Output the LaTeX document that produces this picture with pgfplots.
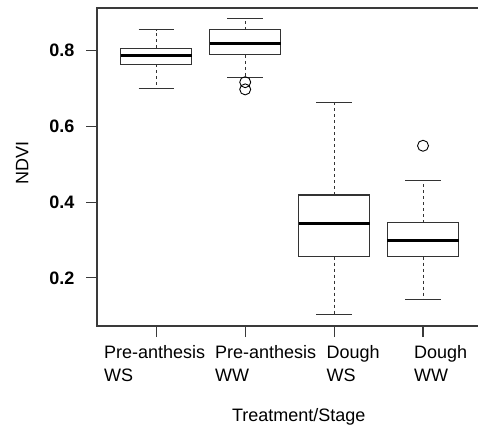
\documentclass[border=0pt]{standalone}
\usepackage{pgfplots}
\pgfplotsset{compat=1.18}
\usepgfplotslibrary{statistics}
\usepackage{fontspec}
\setmainfont{Liberation Sans}

\definecolor{framegray}{HTML}{3A3A3A}
\definecolor{boxgray}{HTML}{333333}

\begin{document}
\begin{tikzpicture}
\path[use as bounding box] (0pt,0pt) rectangle (478pt,-426pt);
\begin{axis}[
  at={(97pt,-326pt)}, anchor=south west,
  scale only axis, width=384.7pt, height=318pt,
  xmin=0.333, xmax=4.66, ymin=0.0727, ymax=0.913,
  xtick={1,2,3,4}, xticklabels={},
  ytick={0.2,0.4,0.6,0.8},
  /pgf/number format/assume math mode=true,
  yticklabel style={/pgf/number format/fixed, /pgf/number format/precision=1,
    /pgf/number format/fixed zerofill, xshift=-8pt,
    font=\fontsize{18}{18}\selectfont\bfseries},
  tick align=outside, tick pos=left, major tick length=11pt,
  axis line style={framegray, line width=1.2pt},
  every tick/.style={framegray, line width=1.2pt},
  boxplot/draw direction=y,
  boxplot/every box/.style={draw=boxgray, line width=1.1pt},
  boxplot/every median/.style={black, line width=3pt},
  boxplot/every whisker/.style={boxgray, line width=1pt},
  boxplot/box extend=0.8,
  boxplot/whisker extend=0.4,
  boxplot/draw/lower whisker/.code={
    \draw[/pgfplots/boxplot/every whisker/.try, dash pattern=on 3pt off 3pt]
      (boxplot cs:\pgfplotsboxplotvalue{lower quartile})
      -- (boxplot cs:\pgfplotsboxplotvalue{lower whisker});
    \draw[/pgfplots/boxplot/every whisker/.try]
      (boxplot whisker cs:\pgfplotsboxplotvalue{lower whisker},0)
      -- (boxplot whisker cs:\pgfplotsboxplotvalue{lower whisker},1);
  },
  boxplot/draw/upper whisker/.code={
    \draw[/pgfplots/boxplot/every whisker/.try, dash pattern=on 3pt off 3pt]
      (boxplot cs:\pgfplotsboxplotvalue{upper quartile})
      -- (boxplot cs:\pgfplotsboxplotvalue{upper whisker});
    \draw[/pgfplots/boxplot/every whisker/.try]
      (boxplot whisker cs:\pgfplotsboxplotvalue{upper whisker},0)
      -- (boxplot whisker cs:\pgfplotsboxplotvalue{upper whisker},1);
  },
]

% Pre-anthesis WS
\addplot[boxplot prepared={draw position=1,
    lower whisker=0.700, lower quartile=0.764, median=0.788,
    upper quartile=0.807, upper whisker=0.855}]
  coordinates {};

% Pre-anthesis WW
\addplot[boxplot prepared={draw position=2,
    lower whisker=0.729, lower quartile=0.789, median=0.818,
    upper quartile=0.856, upper whisker=0.884},
    mark=o, mark size=5.5pt, mark options={solid, black, line width=0.9pt}]
  table[row sep=\\, y index=0] {data\\ 0.717\\ 0.698\\};

% Dough WS
\addplot[boxplot prepared={draw position=3,
    lower whisker=0.104, lower quartile=0.256, median=0.343,
    upper quartile=0.419, upper whisker=0.663}]
  coordinates {};

% Dough WW
\addplot[boxplot prepared={draw position=4,
    lower whisker=0.143, lower quartile=0.256, median=0.298,
    upper quartile=0.346, upper whisker=0.458},
    mark=o, mark size=5.5pt, mark options={solid, black, line width=0.9pt}]
  table[row sep=\\, y index=0] {data\\ 0.549\\};

\end{axis}

% category labels, left-aligned two-line
\begin{scope}[every node/.style={inner sep=0pt, anchor=base west, font=\fontsize{18}{18}\selectfont}]
\node at (104pt,-358pt) {Pre-anthesis};
\node at (104pt,-381pt) {WS};
\node at (215pt,-358pt) {Pre-anthesis};
\node at (215pt,-381pt) {WW};
\node at (326.5pt,-358pt) {Dough};
\node at (326.5pt,-381pt) {WS};
\node at (414pt,-358pt) {Dough};
\node at (414pt,-381pt) {WW};
\end{scope}

\node[inner sep=0pt, anchor=base, font=\fontsize{18}{18}\selectfont] at (298.7pt,-421.7pt) {Treatment/Stage};
\node[inner sep=0pt, anchor=base, rotate=90, font=\fontsize{18}{18}\selectfont] at (28.3pt,-163pt) {NDVI};
\end{tikzpicture}
\end{document}
